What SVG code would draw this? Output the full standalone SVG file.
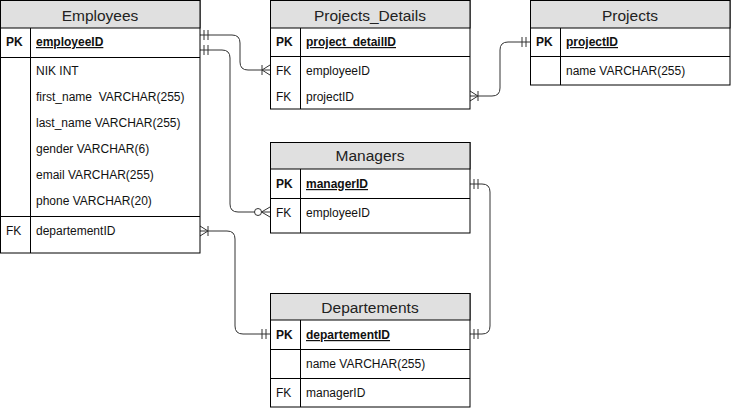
<svg xmlns="http://www.w3.org/2000/svg" width="731" height="408" viewBox="0 0 731 408">
<style>
  .box{fill:#ffffff;stroke:#000;stroke-width:1}
  .hdr{fill:#e0e0e0;stroke:#000;stroke-width:1}
  .ln{stroke:#000;stroke-width:1;fill:none}
  .title{font-family:"Liberation Sans",Arial,sans-serif;font-size:15.5px;fill:#222;text-anchor:middle}
  .t{font-family:"Liberation Sans",Arial,sans-serif;font-size:12px;fill:#111;white-space:pre}
  .k{font-family:"Liberation Sans",Arial,sans-serif;font-size:12px;fill:#111;font-weight:bold}
  .pk{font-family:"Liberation Sans",Arial,sans-serif;font-size:12px;fill:#111;font-weight:bold;text-decoration:underline}
  .conn{fill:none;stroke:#333;stroke-width:1}
  .mk{fill:none;stroke:#333;stroke-width:1}
</style>
<defs>
  <marker id="mandOne" markerUnits="userSpaceOnUse" markerWidth="20" markerHeight="20" refX="0" refY="0" orient="auto-start-reverse" overflow="visible">
    <path class="mk" d="M-4,-5 V5 M-8,-5 V5"/>
  </marker>
  <marker id="oneMany" markerUnits="userSpaceOnUse" markerWidth="20" markerHeight="20" refX="0" refY="0" orient="auto-start-reverse" overflow="visible">
    <path class="mk" d="M-8,-5 V5 M0,-5 L-8,0 L0,5"/>
  </marker>
  <marker id="zeroMany" markerUnits="userSpaceOnUse" markerWidth="20" markerHeight="20" refX="0" refY="0" orient="auto-start-reverse" overflow="visible">
    <path class="mk" d="M0,-5 L-8.5,0 L0,5"/>
    <circle cx="-12" cy="0" r="3.5" fill="#fff" stroke="#333" stroke-width="1"/>
  </marker>
</defs>

<g id="connectors">
  <path class="conn" d="M200,35 H232 Q240,35 240,43 V62 Q240,70 248,70 H270" marker-start="url(#mandOne)" marker-end="url(#oneMany)"/>
  <path class="conn" d="M200,50 H222 Q230,50 230,58 V204 Q230,212 238,212 H270" marker-start="url(#mandOne)" marker-end="url(#zeroMany)"/>
  <path class="conn" d="M200,231 H227 Q235,231 235,239 V326 Q235,334 243,334 H270" marker-start="url(#oneMany)" marker-end="url(#mandOne)"/>
  <path class="conn" d="M470,96 H492 Q500,96 500,88 V50 Q500,42 508,42 H530" marker-start="url(#oneMany)" marker-end="url(#mandOne)"/>
  <path class="conn" d="M470,184 H482 Q490,184 490,192 V326 Q490,334 482,334 H470" marker-start="url(#mandOne)" marker-end="url(#mandOne)"/>
</g>

<g id="employees">
  <rect class="box" x="0.5" y="0.5" width="199.5" height="252.5"/>
  <rect class="hdr" x="0.5" y="0.5" width="199.5" height="27.5"/>
  <text class="title" x="100" y="20.5">Employees</text>
  <path class="ln" d="M0.5,57.5 H200 M0.5,216.5 H200 M30.5,28 V253"/>
  <text class="k" x="6" y="46">PK</text>
  <text class="pk" x="36" y="46">employeeID</text>
  <text class="t" x="36" y="75">NIK INT</text>
  <text class="t" x="36" y="101">first_name  VARCHAR(255)</text>
  <text class="t" x="36" y="127">last_name VARCHAR(255)</text>
  <text class="t" x="36" y="153">gender VARCHAR(6)</text>
  <text class="t" x="36" y="179">email VARCHAR(255)</text>
  <text class="t" x="36" y="205">phone VARCHAR(20)</text>
  <text class="t" x="6" y="235">FK</text>
  <text class="t" x="36" y="235">departementID</text>
</g>

<g id="projects_details">
  <rect class="box" x="270.5" y="0.5" width="199.5" height="108.5"/>
  <rect class="hdr" x="270.5" y="0.5" width="199.5" height="27.5"/>
  <text class="title" x="370" y="20.5">Projects_Details</text>
  <path class="ln" d="M270.5,56.5 H470 M300.5,28 V109"/>
  <text class="k" x="276" y="46">PK</text>
  <text class="pk" x="306" y="46">project_detailID</text>
  <text class="t" x="276" y="74.5">FK</text>
  <text class="t" x="306" y="74.5">employeeID</text>
  <text class="t" x="276" y="100.5">FK</text>
  <text class="t" x="306" y="100.5">projectID</text>
</g>

<g id="projects">
  <rect class="box" x="530.5" y="0.5" width="199.5" height="84.5"/>
  <rect class="hdr" x="530.5" y="0.5" width="199.5" height="27.5"/>
  <text class="title" x="630" y="20.5">Projects</text>
  <path class="ln" d="M530.5,56.5 H730 M560.5,28 V85"/>
  <text class="k" x="536" y="46">PK</text>
  <text class="pk" x="566" y="46">projectID</text>
  <text class="t" x="566" y="75">name VARCHAR(255)</text>
</g>

<g id="managers">
  <rect class="box" x="270.5" y="142.5" width="199.5" height="90.5"/>
  <rect class="hdr" x="270.5" y="142.5" width="199.5" height="26.5"/>
  <text class="title" x="370" y="161">Managers</text>
  <path class="ln" d="M270.5,198.5 H470 M300.5,169 V233"/>
  <text class="k" x="276" y="188">PK</text>
  <text class="pk" x="306" y="188">managerID</text>
  <text class="t" x="276" y="216.5">FK</text>
  <text class="t" x="306" y="216.5">employeeID</text>
</g>

<g id="departements">
  <rect class="box" x="270.5" y="293.5" width="199.5" height="113.5"/>
  <rect class="hdr" x="270.5" y="293.5" width="199.5" height="26.5"/>
  <text class="title" x="370" y="312.5">Departements</text>
  <path class="ln" d="M270.5,349.5 H470 M270.5,378.5 H470 M300.5,320 V407"/>
  <text class="k" x="276" y="339">PK</text>
  <text class="pk" x="306" y="339">departementID</text>
  <text class="t" x="306" y="368">name VARCHAR(255)</text>
  <text class="t" x="276" y="397">FK</text>
  <text class="t" x="306" y="397">managerID</text>
</g>
</svg>
